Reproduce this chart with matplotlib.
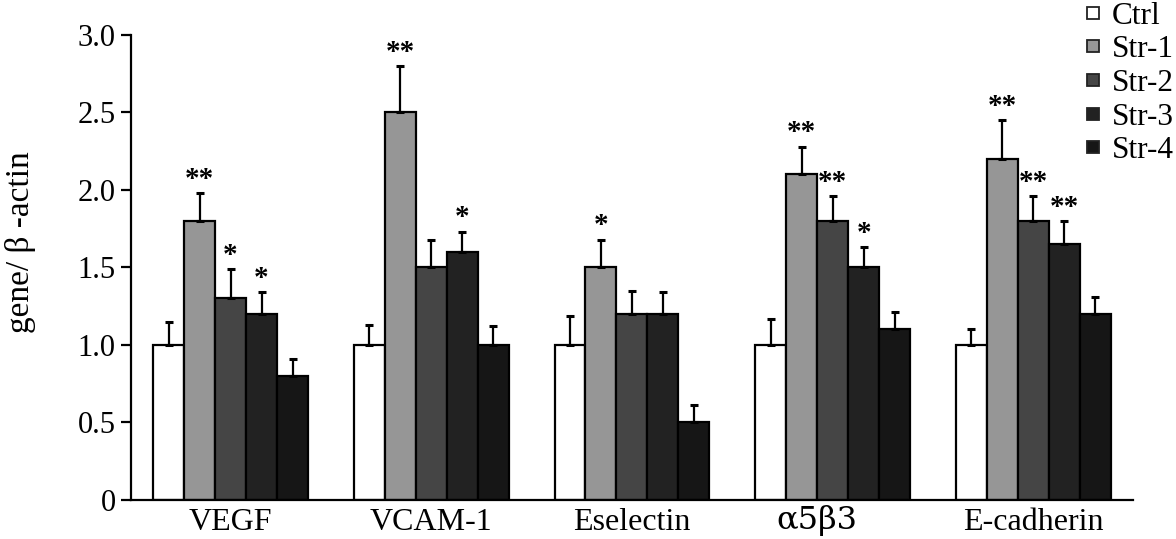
import numpy as np
import matplotlib
matplotlib.use('Agg')
import matplotlib.pyplot as plt
from matplotlib.lines import Line2D
from matplotlib.ticker import FuncFormatter

genes = ['VEGF', 'VCAM-1', 'Eselectin', 'α5β3', 'E-cadherin']
groups = ['Ctrl', 'Str-1', 'Str-2', 'Str-3', 'Str-4']
colors = ['#ffffff', '#969696', '#454545', '#222222', '#161616']

# mean values per group (one list per series, over genes)
ctrl = [1.0, 1.0, 1.0, 1.0, 1.0]
str1 = [1.8, 2.5, 1.5, 2.1, 2.2]
str2 = [1.3, 1.5, 1.2, 1.8, 1.8]
str3 = [1.2, 1.6, 1.2, 1.5, 1.65]
str4 = [0.8, 1.0, 0.5, 1.1, 1.2]

# upper error (SD)
ctrl_err = [0.15, 0.13, 0.19, 0.17, 0.10]
str1_err = [0.18, 0.30, 0.18, 0.18, 0.25]
str2_err = [0.19, 0.18, 0.15, 0.16, 0.16]
str3_err = [0.14, 0.13, 0.14, 0.13, 0.15]
str4_err = [0.11, 0.12, 0.11, 0.11, 0.11]

# significance marks
ctrl_sig = ['', '', '', '', '']
str1_sig = ['**', '**', '*', '**', '**']
str2_sig = ['*', '', '', '**', '**']
str3_sig = ['*', '*', '', '*', '**']
str4_sig = ['', '', '', '', '']

values = [ctrl, str1, str2, str3, str4]
errors = [ctrl_err, str1_err, str2_err, str3_err, str4_err]
sigs = [ctrl_sig, str1_sig, str2_sig, str3_sig, str4_sig]

plt.rcParams['font.family'] = ['Liberation Serif', 'DejaVu Serif']

fig = plt.figure(figsize=(11.76, 5.39), dpi=100)
ax = fig.add_axes([0.1114, 0.0724, 0.852, 0.8627])

x = np.arange(len(genes))
w = 0.1544
for i, name in enumerate(groups):
    pos = x + (i - 2) * w
    ax.bar(pos, values[i], w, color=colors[i], edgecolor='black', linewidth=1.6, zorder=2)
    ax.errorbar(pos, values[i], yerr=[np.zeros(len(genes)), errors[i]], fmt='none',
                ecolor='black', elinewidth=1.6, capsize=3, capthick=2.2, zorder=3)
    for j in range(len(genes)):
        if sigs[i][j]:
            ax.text(pos[j], values[i][j] + errors[i][j] + 0.09, sigs[i][j],
                    ha='center', va='center', fontsize=21, fontweight='bold')

ax.set_xlim(-0.496, 4.496)
ax.set_ylim(0, 3.0)
ax.set_yticks([0, 0.5, 1.0, 1.5, 2.0, 2.5, 3.0])
ax.yaxis.set_major_formatter(FuncFormatter(lambda v, p: '0' if v == 0 else '%.1f' % v))
ax.set_xticks(x)
# the alpha5beta3 label sits a bit left of its group and is drawn wider
ax.set_xticklabels([g if g != 'α5β3' else '' for g in genes])
ax.text(x[3] - 0.08, -0.062, 'α5β3', transform=ax.get_xaxis_transform(),
        ha='center', va='baseline', fontsize=23, family=['DejaVu Serif'])
ax.tick_params(axis='x', length=0, pad=6, labelsize=23)
ax.tick_params(axis='y', direction='out', length=7, width=1.6, labelsize=22, pad=4)
ax.spines['top'].set_visible(False)
ax.spines['right'].set_visible(False)
ax.spines['left'].set_linewidth(1.6)
ax.spines['bottom'].set_linewidth(1.6)

ax.set_ylabel('gene/ β -actin', fontsize=24)
ax.yaxis.set_label_coords(-0.095, 0.555)

handles = [Line2D([], [], linestyle='none', marker='s', markersize=8,
                  markerfacecolor=c, markeredgecolor='#222222', markeredgewidth=1.3)
           for c in colors]
fig.legend(handles, groups, loc='upper left', bbox_to_anchor=(1082 / 1176, 1.0),
           frameon=False, fontsize=22.5, handlelength=0.6, handletextpad=0.3,
           labelspacing=0.15, borderpad=0.05, borderaxespad=0)

fig.savefig('out.png', dpi=100)
